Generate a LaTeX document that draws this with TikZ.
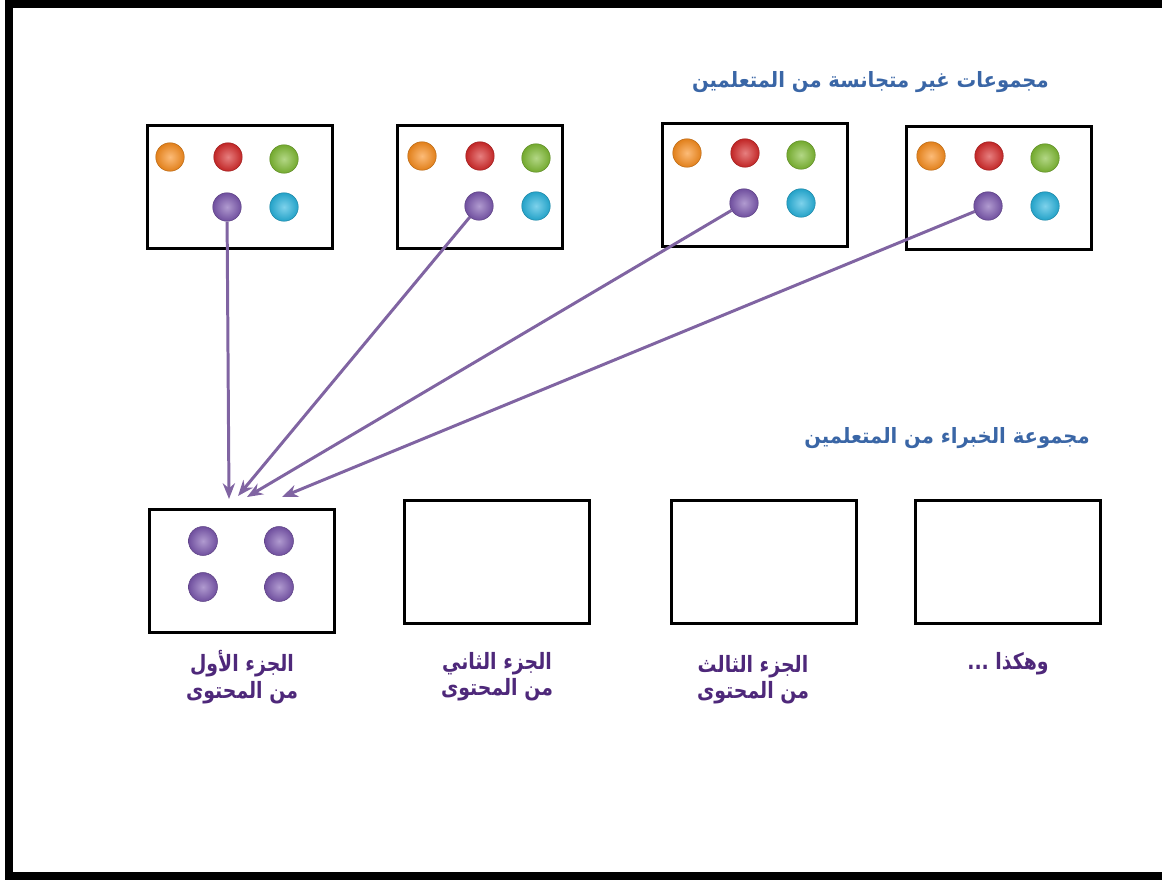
\documentclass[tikz,border=0pt]{standalone}
\usepackage{fontspec}
\newfontfamily\arabicfont[Script=Arabic, FakeStretch=0.93]{DejaVu Sans}
\newfontfamily\partfont[Script=Arabic, FakeStretch=0.84]{DejaVu Sans}
\TeXXeTstate=1
\usetikzlibrary{positioning,arrows.meta}

\definecolor{titleblue}{RGB}{58,102,166}
\definecolor{labelpurple}{RGB}{78,40,122}
\definecolor{flowpurple}{RGB}{128,100,162}
\definecolor{dotorange}{RGB}{250,142,30}
\definecolor{dotred}{RGB}{214,42,42}
\definecolor{dotgreen}{RGB}{128,188,52}
\definecolor{dotpurple}{RGB}{124,88,176}
\definecolor{dotcyan}{RGB}{40,180,222}

\tikzset{
  groupbox/.style = {draw = black, line width = 1.7pt, shape = rectangle, minimum width = 3.7cm, minimum height = 2.45cm, inner sep = 0pt},
  dot/.style = {shape = circle, inner sep = 0pt, minimum size = 0.57cm, inner color = #1!60!white, outer color = #1!90!black, draw = #1!75!black, line width = 0.3pt},
  flow/.style = {draw = flowpurple, line width = 1.7pt, -{Stealth[length = 9pt, width = 7pt]}},
  heading/.style = {font = \arabicfont\bfseries\fontsize{12}{14}\selectfont, text = titleblue},
  part/.style = {font = \partfont\bfseries\fontsize{12.8}{15}\selectfont, text = labelpurple, align = center}
}

\begin{document}
\begin{tikzpicture}[x = 0.02cm, y = -0.02cm]
\useasboundingbox (0,0) rectangle (1162,879);
% frame
\draw[line width = 4.5pt] (1162,4) -- (9,4) -- (9,876) -- (1162,876);

% mixed groups
\node[groupbox] (g1) at (240,187) {};
\node[groupbox, minimum width = 3.3cm] (g2) at (480,187) {};
\node[groupbox] (g3) at (755,185) {};
\node[groupbox] (g4) at (999,188) {};
\foreach \n/\bx/\by in {1/170/157, 2/422/156, 3/687/153, 4/931/156} {
  \node[dot = dotorange] (o\n) at (\bx,\by) {};
  \node[dot = dotred]    (r\n) at ({\bx+58},\by) {};
  \node[dot = dotgreen]  (v\n) at ({\bx+114},{\by+2}) {};
  \node[dot = dotpurple] (p\n) at ({\bx+57},{\by+50}) {};
  \node[dot = dotcyan]   (c\n) at ({\bx+114},{\by+50}) {};
}
\node[heading, anchor = east] (mixed) at (1055,82) {\beginR مجموعات غير متجانسة من المتعلمين\endR};

% expert groups
\node[groupbox] (e1) at (242,571) {};
\node[groupbox] (e2) at (497,562) {};
\node[groupbox] (e3) at (764,562) {};
\node[groupbox] (e4) at (1008,562) {};
\node[dot = dotpurple, minimum size = 0.58cm] (x1) at (203,541) {};
\node[dot = dotpurple, minimum size = 0.58cm] (x2) at (279,541) {};
\node[dot = dotpurple, minimum size = 0.58cm] (x3) at (203,587) {};
\node[dot = dotpurple, minimum size = 0.58cm] (x4) at (279,587) {};
\node[heading, anchor = east] (experts) at (1096,438) {\beginR مجموعة الخبراء من المتعلمين\endR};

% arrows
\coordinate (t1) at (229,499);
\coordinate (t2) at (238,496);
\coordinate (t3) at (247,497);
\coordinate (t4) at (282,497);
\foreach \n in {1,...,4}
  \draw[flow] (p\n) -- (t\n);

% parts
\node[part] (l1) at (242,677) {\beginR الجزء الأول\endR\\\beginR من المحتوى\endR};
\node[part] (l2) at (497,677) {\beginR الجزء الثاني\endR\\\beginR من المحتوى\endR};
\node[part] (l3) at (753,680) {\beginR الجزء الثالث\endR\\\beginR من المحتوى\endR};
\node[part] (l4) at (1008,664) {\beginR وهكذا ...\endR};
\end{tikzpicture}
\end{document}
